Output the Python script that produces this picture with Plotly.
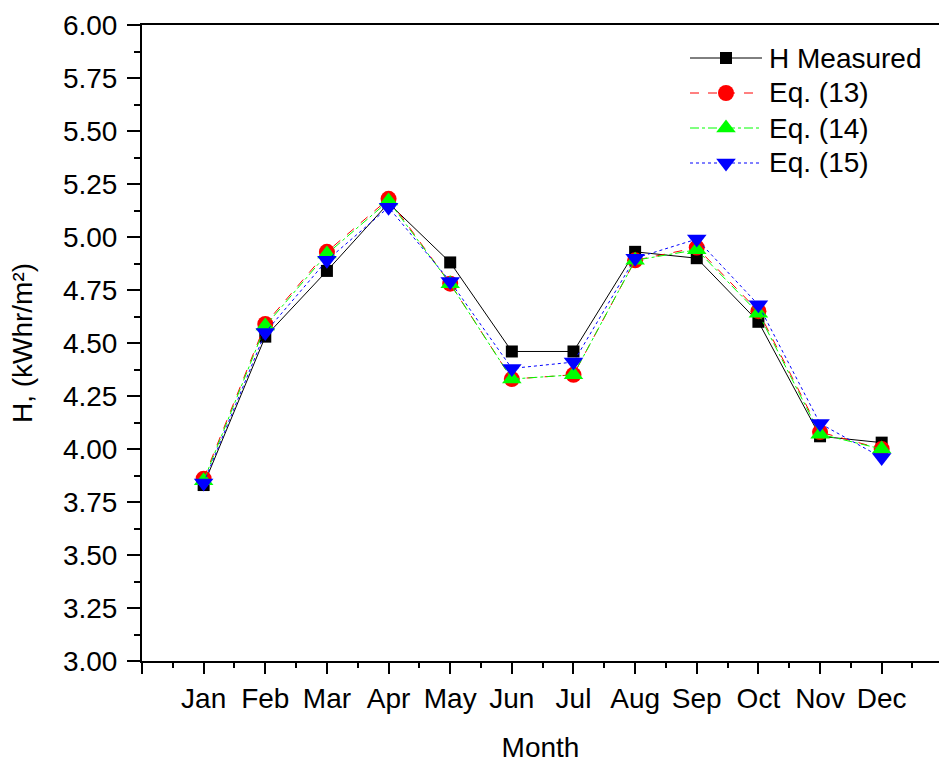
import plotly.graph_objects as go

# Monthly global solar radiation, measured vs. three empirical equations
months = ["Jan", "Feb", "Mar", "Apr", "May", "Jun",
          "Jul", "Aug", "Sep", "Oct", "Nov", "Dec"]
month_no = list(range(1, 13))

h_measured = [3.83, 4.53, 4.84, 5.16, 4.88, 4.46, 4.46, 4.93, 4.90, 4.60, 4.06, 4.03]
eq13 = [3.86, 4.59, 4.93, 5.18, 4.78, 4.33, 4.35, 4.89, 4.95, 4.65, 4.08, 4.00]
eq14 = [3.85, 4.58, 4.92, 5.17, 4.78, 4.33, 4.35, 4.89, 4.94, 4.64, 4.07, 4.00]
eq15 = [3.84, 4.55, 4.89, 5.14, 4.79, 4.38, 4.41, 4.90, 4.99, 4.68, 4.12, 3.96]

series = [
    ("H Measured", h_measured, "black", "solid", "square", 12),
    ("Eq. (13)", eq13, "red", "dash", "circle", 16),
    ("Eq. (14)", eq14, "#00ff00", "dashdot", "triangle-up", 17),
    ("Eq. (15)", eq15, "blue", "dot", "triangle-down", 17),
]

FONT = "Arial, 'Liberation Sans', sans-serif"
FS = 28

# figure geometry (px)
W, H = 939, 765
ML, MT, MB = 142, 25, 104
PW, PH = W - ML, H - MT - MB


def px_x(px):
    return (px - ML) / PW


def px_y(px):
    return (H - MB - px) / PH


fig = go.Figure()
for name, vals, color, dash, symbol, size in series:
    fig.add_trace(go.Scatter(
        x=month_no, y=vals, name=name, mode="lines+markers",
        showlegend=False,
        line=dict(color=color, width=1, dash=dash),
        marker=dict(symbol=symbol, size=size, color=color,
                    line=dict(width=0)),
    ))

# key in the upper right: sample line, marker and label for each series
KEY_LINE = (690, 762)
KEY_MARK = 726
KEY_TEXT = 767
KEY_ROW0, KEY_DY = 58, 35
shapes, annotations = [], []
for i, (name, vals, color, dash, symbol, size) in enumerate(series):
    ky = px_y(KEY_ROW0 + i * KEY_DY)
    shapes.append(dict(type="line", xref="paper", yref="paper",
                       x0=px_x(KEY_LINE[0]), x1=px_x(KEY_LINE[1]),
                       y0=ky, y1=ky,
                       line=dict(color=color, width=1, dash=dash)))
    fig.add_trace(go.Scatter(
        x=[px_x(KEY_MARK)], y=[ky], xaxis="x2", yaxis="y2",
        mode="markers", showlegend=False, hoverinfo="skip",
        marker=dict(symbol=symbol, size=size, color=color,
                    line=dict(width=0)),
    ))
    annotations.append(dict(text=name, xref="paper", yref="paper",
                            x=px_x(KEY_TEXT), y=ky, xanchor="left",
                            yanchor="middle", showarrow=False,
                            font=dict(size=FS)))

fig.update_layout(
    width=W, height=H,
    margin=dict(l=ML, r=0, t=MT, b=MB),
    paper_bgcolor="white", plot_bgcolor="white",
    font=dict(family=FONT, size=FS, color="black"),
    showlegend=False,
    shapes=shapes, annotations=annotations,
    xaxis=dict(
        range=[0, 12.93],
        tickmode="array", tickvals=[0] + month_no, ticktext=[""] + months,
        ticks="outside", ticklen=11, tickwidth=2, tickcolor="black",
        minor=dict(tickmode="linear", tick0=0.5, dtick=1, ticklen=5,
                   tickwidth=2, tickcolor="black", ticks="outside"),
        showline=True, linewidth=2, linecolor="black", mirror=True,
        showgrid=False, zeroline=False,
        tickfont=dict(size=FS),
        title=dict(text="Month", font=dict(size=FS), standoff=25),
    ),
    yaxis=dict(
        range=[3, 6], dtick=0.25, tick0=3, tickformat=".2f",
        ticks="outside", ticklen=13, tickwidth=2, tickcolor="black",
        ticklabelstandoff=4,
        minor=dict(dtick=0.125, tick0=3, ticklen=6, tickwidth=2,
                   tickcolor="black", ticks="outside"),
        showline=True, linewidth=2, linecolor="black", mirror=False,
        showgrid=False, zeroline=False,
        tickfont=dict(size=FS),
        title=dict(text="H, (kWhr/m²)", font=dict(size=FS), standoff=22),
    ),
    xaxis2=dict(overlaying="x", range=[0, 1], visible=False),
    yaxis2=dict(overlaying="y", range=[0, 1], visible=False),
)

fig.write_html("out.html")
